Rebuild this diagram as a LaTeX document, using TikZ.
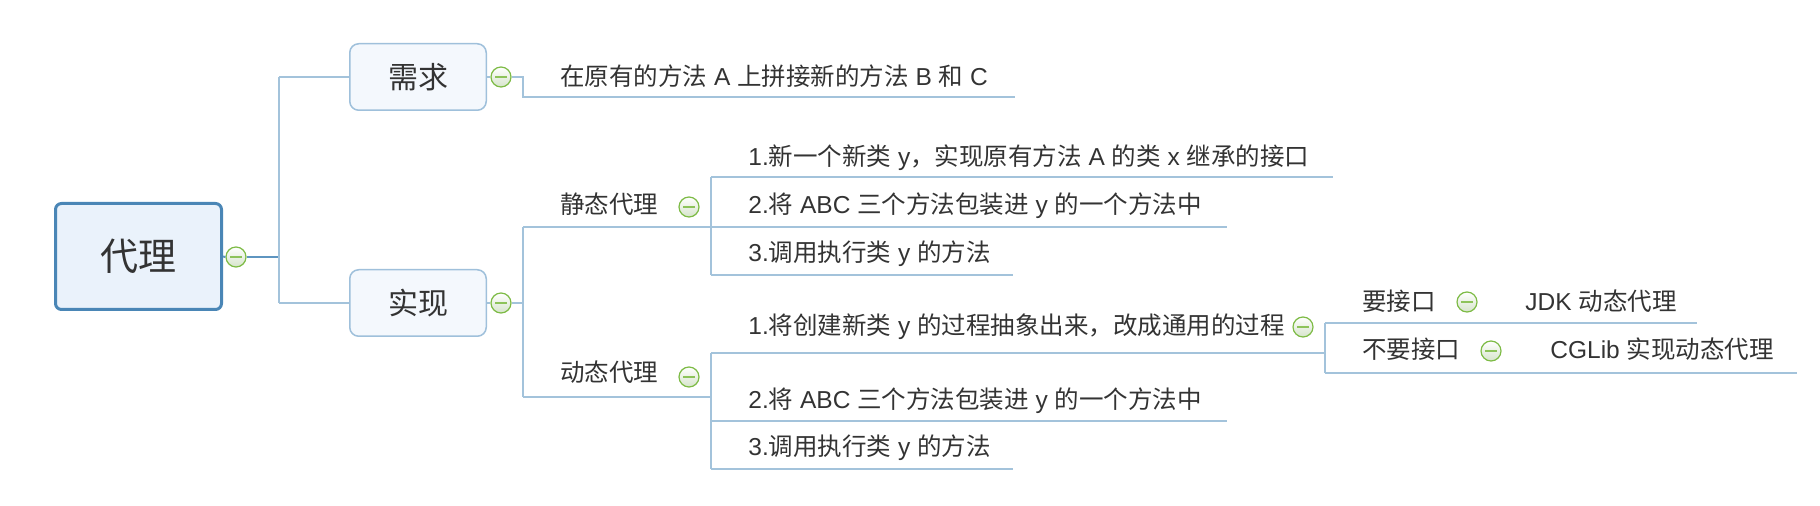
\documentclass[tikz,border=0pt]{standalone}
\usepackage{fontspec}
\setmainfont{Noto Sans CJK SC}
\newfontfamily\latn{Liberation Sans}
\definecolor{linec}{HTML}{A3C3DB}
\definecolor{rootconnc}{HTML}{5E95C0}
\definecolor{rootb}{HTML}{4A86B6}
\definecolor{rootf}{HTML}{EAF2FB}
\definecolor{boxb}{HTML}{9FC0DB}
\definecolor{boxf}{HTML}{F4F8FD}
\definecolor{foldb}{HTML}{7DBB45}
\definecolor{foldf}{HTML}{D6E4CB}
\definecolor{foldm}{HTML}{8DC35A}
\definecolor{txt}{HTML}{333333}
\tikzset{
  conn/.style={draw=linec, line width=0.8pt},
  rootconn/.style={draw=rootconnc, line width=1pt},
  rootbox/.style={draw=rootb, fill=rootf, line width=1.5pt, rounded corners=3pt,
    minimum width=83pt, minimum height=53pt, inner sep=0pt,
    font=\fontsize{19}{19}\selectfont, text=txt},
  topicbox/.style={draw=boxb, fill=boxf, line width=0.75pt, rounded corners=4.5pt,
    minimum width=68.25pt, minimum height=33.25pt, inner sep=0pt,
    font=\fontsize{15}{15}\selectfont, text=txt},
  leaf/.style={anchor=base west, inner sep=0pt,
    font=\fontsize{12.25}{12.25}\selectfont, text=txt},
  foldbtn/.style={circle, draw=foldb, line width=0.6pt, top color=white,
    bottom color=foldf, minimum size=10pt, inner sep=0pt,
    path picture={\draw[foldm, line width=1pt]
      ([xshift=-3pt]path picture bounding box.center) --
      ([xshift=3pt]path picture bounding box.center);}},
}
\begin{document}
\begin{tikzpicture}[x=0.5pt,y=-0.5pt]
\useasboundingbox (0,0) rectangle (1820,506);
% main boxes
\node[rootbox] (root) at (138.5,256.5) {代理};
\node[topicbox] (need) at (418,77) {需求};
\node[topicbox] (impl) at (418,303) {实现};
% fold buttons
\node[foldbtn] (rootfold) at (236,257) {};
\node[foldbtn] (needfold) at (501,77) {};
\node[foldbtn] (implfold) at (501,303) {};
\node[foldbtn] (statfold) at (689,207) {};
\node[foldbtn] (dynfold) at (689,377) {};
\node[foldbtn] (d1fold) at (1303,327) {};
\node[foldbtn] (ifold) at (1467,302) {};
\node[foldbtn] (nifold) at (1491,351) {};
% texts
\node[leaf] (t0) at (560,86) {在原有的方法{\latn\ A\ }上拼接新的方法{\latn\ B\ }和{\latn\ C}};
\node[leaf] (stat) at (560,214) {静态代理};
\node[leaf] (dyn) at (560,382) {动态代理};
\node[leaf] (s1) at (748,166) {{\latn 1.}新一个新类{\latn\ y}，实现原有方法{\latn\ A\ }的类{\latn\ x\ }继承的接口};
\node[leaf] (s2) at (748,214) {{\latn 2.}将{\latn\ ABC\ }三个方法包装进{\latn\ y\ }的一个方法中};
\node[leaf] (s3) at (748,262) {{\latn 3.}调用执行类{\latn\ y\ }的方法};
\node[leaf] (d1) at (748,335) {{\latn 1.}将创建新类{\latn\ y\ }的过程抽象出来，改成通用的过程};
\node[leaf] (d2) at (748,409) {{\latn 2.}将{\latn\ ABC\ }三个方法包装进{\latn\ y\ }的一个方法中};
\node[leaf] (d3) at (748,456) {{\latn 3.}调用执行类{\latn\ y\ }的方法};
\node[leaf] (iface) at (1362,311) {要接口};
\node[leaf] (noiface) at (1362,359) {不要接口};
\node[leaf] (jdk) at (1525,311) {{\latn JDK\ }动态代理};
\node[leaf] (cglib) at (1550,359) {{\latn CGLib\ }实现动态代理};
% junction coordinates
\coordinate (j0) at (279,257);
\coordinate (j0a) at (279,77);
\coordinate (j0b) at (279,303);
\coordinate (jn) at (523,77);
\coordinate (t0end) at (1015,97);
\coordinate (ji) at (523,303);
\coordinate (jstat) at (523,227);
\coordinate (jdyn) at (523,397);
\coordinate (statend) at (711,227);
\coordinate (dynend) at (711,397);
\coordinate (vs1) at (711,177);
\coordinate (vs3) at (711,275);
\coordinate (s1end) at (1333,177);
\coordinate (s2end) at (1227,227);
\coordinate (s3end) at (1013,275);
\coordinate (vd1) at (711,353);
\coordinate (vd2) at (711,421);
\coordinate (vd3) at (711,469);
\coordinate (d1end) at (1325,353);
\coordinate (d2end) at (1227,421);
\coordinate (d3end) at (1013,469);
\coordinate (vi) at (1325,323);
\coordinate (vni) at (1325,373);
\coordinate (iend) at (1697,323);
\coordinate (niend) at (1797,373);
% connectors
\draw[rootconn] (root.east) -- (rootfold.west);
\draw[rootconn] (rootfold.east) -- (j0);
\draw[conn] (j0a) -- (j0b);
\draw[conn] (j0a) -- (need.west);
\draw[conn] (j0b) -- (impl.west);
\draw[conn] (need.east) -- (needfold.west);
\draw[conn] (needfold.east) -- (jn) |- (t0end);
\draw[conn] (impl.east) -- (implfold.west);
\draw[conn] (implfold.east) -- (ji);
\draw[conn] (jstat) -- (jdyn);
\draw[conn] (jstat) -- (statend);
\draw[conn] (jdyn) -- (dynend);
\draw[conn] (vs1) -- (vs3);
\draw[conn] (vs1) -- (s1end);
\draw[conn] (statend) -- (s2end);
\draw[conn] (vs3) -- (s3end);
\draw[conn] (vd1) -- (vd3);
\draw[conn] (vd1) -- (d1end);
\draw[conn] (vd2) -- (d2end);
\draw[conn] (vd3) -- (d3end);
\draw[conn] (vi) -- (vni);
\draw[conn] (vi) -- (iend);
\draw[conn] (vni) -- (niend);
\end{tikzpicture}
\end{document}
